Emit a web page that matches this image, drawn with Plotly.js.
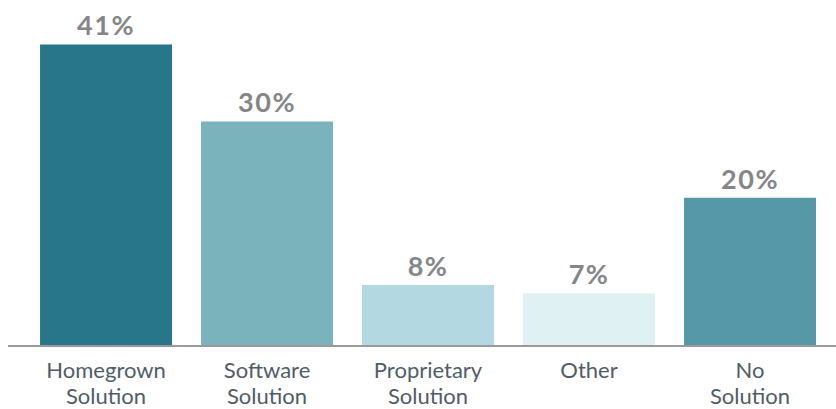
<!DOCTYPE html>
<html>
<head>
<meta charset="utf-8">
<script src="https://cdn.plot.ly/plotly-3.0.1.min.js"></script>
<style>
html,body{margin:0;padding:0;background:#fff;}
#chart{width:836px;height:409px;}
#chart text.bartext{letter-spacing:1.5px;}
</style>
</head>
<body>
<div id="chart"></div>
<script>
const categories = ["Homegrown Solution", "Software Solution", "Proprietary Solution", "Other", "No Solution"];
const labelLine1 = ["Homegrown", "Software", "Proprietary", "Other", "No"];
const labelLine2 = ["Solution", "Solution", "Solution", "", "Solution"];
const values = [40.6, 30.2, 8.1, 7.0, 19.9];
const labels = ["41%", "30%", "8%", "7%", "20%"];
const colors = ["#28768a", "#7ab3bc", "#b3d8e1", "#e0f1f4", "#5698a8"];

const tickFont = {family: "Lato, 'Open Sans', sans-serif", size: 22, color: "#4f5d68"};

const trace = {
  type: "bar",
  x: categories,
  y: values,
  text: labels,
  textposition: "outside",
  cliponaxis: false,
  textfont: {family: "Lato, 'Open Sans', sans-serif", size: 27, color: "#858689", weight: 700},
  marker: {color: colors, line: {width: 0}},
  width: 0.82,
  hoverinfo: "none"
};

const secondLines = categories.map((c, i) => ({
  x: c, xref: "x",
  y: 0, yref: "paper",
  yanchor: "top", xanchor: "center",
  yshift: -35,
  text: labelLine2[i],
  showarrow: false,
  font: tickFont
}));

const layout = {
  width: 836, height: 409,
  margin: {l: 8, r: 0, t: 0, b: 64},
  paper_bgcolor: "#ffffff",
  plot_bgcolor: "#ffffff",
  showlegend: false,
  annotations: secondLines,
  xaxis: {
    type: "category",
    range: [-0.609, 4.534],
    tickmode: "array", tickvals: categories, ticktext: labelLine1,
    showline: true, linecolor: "#9a9a9a", linewidth: 2,
    ticks: "", showgrid: false, zeroline: false,
    tickfont: tickFont,
    ticklabelstandoff: 5,
    fixedrange: true
  },
  yaxis: {
    range: [0, 46.6],
    visible: false, showgrid: false, zeroline: false, fixedrange: true
  }
};

Plotly.newPlot("chart", [trace], layout, {displayModeBar: false, staticPlot: true});
</script>
</body>
</html>
